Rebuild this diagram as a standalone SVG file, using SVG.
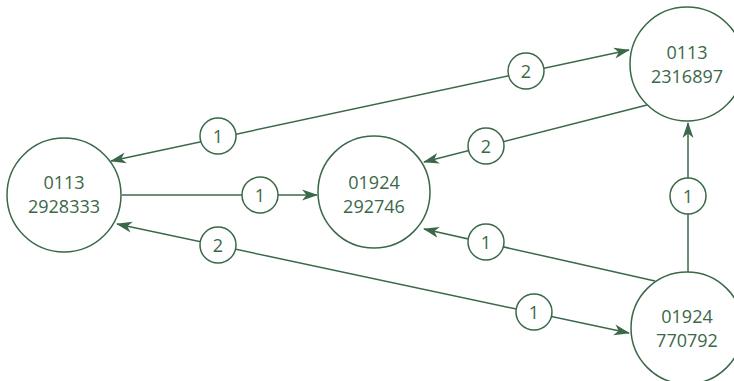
<svg xmlns="http://www.w3.org/2000/svg" width="734" height="381" viewBox="0 0 734 381">
<defs>
<marker id="arr" viewBox="0 0 16 12" refX="15" refY="6" markerWidth="16" markerHeight="12" markerUnits="userSpaceOnUse" orient="auto-start-reverse">
<path d="M0,0.5 L16,6 L0,11.5 L4.5,6 Z" fill="#3a6848"/>
</marker>
</defs>
<style>
.node{fill:#fff;stroke:#3a6848;stroke-width:1.5}
.lab{fill:#fff;stroke:#3a6848;stroke-width:1.5}
.edge{fill:none;stroke:#3a6848;stroke-width:1.5}
text{font-family:"Open Sans","Noto Sans",sans-serif;font-size:18px;fill:#3a6848;text-anchor:middle}
</style>
<rect width="734" height="381" fill="#fff"/>
<g id="connectors">
<line class="edge" x1="111" y1="161" x2="629" y2="50" marker-start="url(#arr)" marker-end="url(#arr)"/>
<line class="edge" x1="117" y1="224" x2="629" y2="333" marker-start="url(#arr)" marker-end="url(#arr)"/>
<line class="edge" x1="122" y1="195" x2="317" y2="195" marker-end="url(#arr)"/>
<line class="edge" x1="647" y1="105" x2="424" y2="162" marker-end="url(#arr)"/>
<line class="edge" x1="655" y1="281" x2="424" y2="229" marker-end="url(#arr)"/>
<line class="edge" x1="688" y1="272" x2="688" y2="123" marker-end="url(#arr)"/>
<g id="labels">
<circle class="lab" cx="218" cy="136" r="18"/><text x="218" y="142.5">1</text>
<circle class="lab" cx="526" cy="71" r="18"/><text x="526" y="77.5">2</text>
<circle class="lab" cx="218" cy="245" r="18"/><text x="218" y="251.5">2</text>
<circle class="lab" cx="534" cy="312" r="18"/><text x="534" y="318.5">1</text>
<circle class="lab" cx="260" cy="195" r="18"/><text x="260" y="201.5">1</text>
<circle class="lab" cx="486" cy="146" r="18"/><text x="486" y="152.5">2</text>
<circle class="lab" cx="486" cy="242" r="18"/><text x="486" y="248.5">1</text>
<circle class="lab" cx="688" cy="196" r="18"/><text x="688" y="202.5">1</text>
</g>
</g>
<g id="nodeA">
<circle class="node" cx="64" cy="195" r="57"/>
<text x="64" y="189">0113</text><text x="64" y="213">2928333</text>
</g>
<g id="nodeB">
<circle class="node" cx="374" cy="192" r="56"/>
<text x="374" y="189">01924</text><text x="374" y="213">292746</text>
</g>
<g id="nodeC">
<circle class="node" cx="687" cy="64" r="57"/>
<text x="687" y="59">0113</text><text x="687" y="83">2316897</text>
</g>
<g id="nodeD">
<circle class="node" cx="687" cy="328" r="56"/>
<text x="687" y="323">01924</text><text x="687" y="347">770792</text>
</g>
</svg>
